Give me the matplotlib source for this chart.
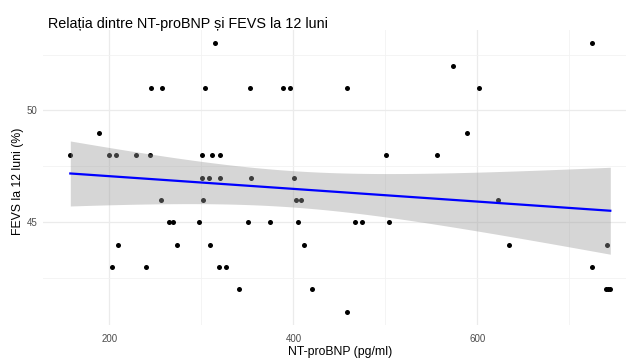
import numpy as np
import matplotlib
matplotlib.use("Agg")
import matplotlib.pyplot as plt

plt.rcParams['font.family'] = ['Liberation Sans', 'DejaVu Sans']

# NT-proBNP (pg/ml) vs FEVS at 12 months
ntprobnp = [157.5, 188.4, 200, 207.3, 229.4, 244.4, 244.7, 257.4, 315.2, 303.5,
            300.7, 311.2, 320.3, 300.7, 307.9, 320.3, 256, 301.4, 264.3, 269.1,
            297.8, 351, 209.5, 273.8, 309.8, 202.6, 239.3, 319.6, 327.2, 340.6,
            353, 354, 388.2, 396.6, 458, 500.5, 556.3, 400.5, 403.2, 408.6,
            374.8, 405.3, 467, 475.1, 504.1, 411.9, 420.6, 458, 724.3, 573.9,
            601.9, 589.1, 622.9, 634.2, 741, 724.3, 739.5, 742, 744.5]
fevs = [48, 49, 48, 48, 48, 48, 51, 51, 53, 51,
        48, 48, 48, 47, 47, 47, 46, 46, 45, 45,
        45, 45, 44, 44, 44, 43, 43, 43, 43, 42,
        51, 47, 51, 51, 51, 48, 48, 47, 46, 46,
        45, 45, 45, 45, 45, 44, 42, 41, 53, 52,
        51, 49, 46, 44, 44, 43, 42, 42, 42]

x_ticks = [200, 400, 600]
y_ticks = [45, 50]

x = np.array(ntprobnp, dtype=float)
y = np.array(fevs, dtype=float)

# linear fit + 95% confidence band (like geom_smooth(method="lm"))
n = len(x)
b1, b0 = np.polyfit(x, y, 1)
resid = y - (b0 + b1 * x)
s = np.sqrt(np.sum(resid ** 2) / (n - 2))
t_crit = 2.0025  # t(0.975, df=57)
xs = np.linspace(x.min(), x.max(), 80)
ys = b0 + b1 * xs
se = s * np.sqrt(1 / n + (xs - x.mean()) ** 2 / np.sum((x - x.mean()) ** 2))

fig = plt.figure(figsize=(6.26, 3.58), dpi=100)
W, H = 626, 358
left, right, top, bottom = 43.3, 637.3, 29.9, 325.3
ax = fig.add_axes([left / W, 1 - bottom / H, (right - left) / W, (bottom - top) / H])

ax.scatter(x, y, s=13, color='black', zorder=2, linewidths=0)
ax.fill_between(xs, ys - t_crit * se, ys + t_crit * se, color='#999999', alpha=0.4,
                linewidth=0, zorder=3)
ax.plot(xs, ys, color='blue', lw=1.6, zorder=4)

pad_x = (x.max() - x.min()) * 0.05
pad_y = (y.max() - y.min()) * 0.05
ax.set_xlim(x.min() - pad_x, x.max() + pad_x)
ax.set_ylim(y.min() - pad_y, y.max() + pad_y)

ax.set_xticks(x_ticks)
ax.set_yticks(y_ticks)
ax.set_xticks([300, 500, 700], minor=True)
ax.set_yticks([42.5, 47.5, 52.5], minor=True)
ax.grid(True, which='major', color='#EBEBEB', lw=0.9, zorder=0)
ax.grid(True, which='minor', color='#F2F2F2', lw=0.6, zorder=0)
ax.set_axisbelow(True)
for sp in ax.spines.values():
    sp.set_visible(False)
ax.tick_params(which='both', length=0, labelsize=7, labelcolor='#4D4D4D')
ax.tick_params(axis='x', pad=6.3)
ax.tick_params(axis='y', pad=4)

fig.text(48.5 / W, 1 - 27.7 / H, 'Relația dintre NT-proBNP și FEVS la 12 luni',
         fontsize=10.4, va='baseline', ha='left')
fig.text((left + right) / 2 / W, 1 - 355 / H, 'NT-proBNP (pg/ml)',
         fontsize=8.8, ha='center', va='baseline')
fig.text(18 / W, 1 - 181 / H, 'FEVS la 12 luni (%)', fontsize=8.8,
         rotation=90, ha='center', va='center')

fig.savefig('out.png', dpi=100)
